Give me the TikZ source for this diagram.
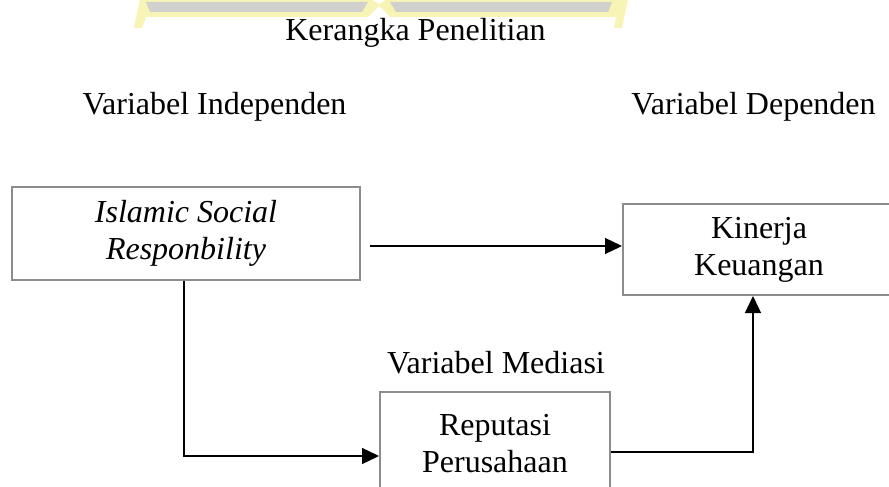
\documentclass[tikz,border=0pt]{standalone}
\usepackage{fontspec}
\setmainfont{Liberation Serif}
\usetikzlibrary{arrows.meta}
\definecolor{wmyellow}{RGB}{248,244,182}
\definecolor{wmgrey}{RGB}{208,208,204}
\definecolor{boxgrey}{RGB}{140,140,140}
\tikzset{
  txt/.style={font=\fontsize{32}{37}\selectfont, inner sep=0pt},
  vbox/.style={draw=boxgrey, line width=2pt, fill=white, align=center,
    font=\fontsize{32}{37}\selectfont, inner sep=0pt},
  arr/.style={draw=black, line width=1.3pt,
    -{Triangle[length=17pt,width=16pt]}},
}
\begin{document}
\begin{tikzpicture}[x=1pt,y=-1pt]
\useasboundingbox (0,0) rectangle (889,487);
\clip (0,0) rectangle (889,487);
% watermark remnant at the top
\fill[wmyellow] (134,28) -- (140,0) -- (372,0) -- (379,4) -- (386,0) -- (628,0)
  -- (622,28) -- (614,28) -- (616,17) -- (390,17) -- (379,6) -- (368,17)
  -- (146,17) -- (142,28) -- cycle;
\fill[wmgrey] (146,2) -- (368,2) -- (362,12) -- (150,12) -- cycle;
\fill[wmgrey] (390,2) -- (612,2) -- (608,12) -- (396,12) -- cycle;
% titles
\node[txt, anchor=base] (title) at (415.5,41) {Kerangka Penelitian};
\node[txt, anchor=base] (indep) at (214.5,114) {Variabel Independen};
\node[txt, anchor=base] (dep) at (753.5,114) {Variabel Dependen};
\node[txt, anchor=base] (med) at (496,373) {Variabel Mediasi};
% boxes
\node[vbox, minimum width=348pt, minimum height=93pt] (isr) at (186,233.5)
  {\itshape Islamic Social\\\itshape Responbility};
\node[vbox, minimum width=272pt, minimum height=91pt] (kin) at (759,249.5)
  {Kinerja\\Keuangan};
\node[vbox, minimum width=230pt, minimum height=104pt] (rep) at (495,444)
  {Reputasi\\Perusahaan};
% connectors
\coordinate (s1) at (370,246);
\draw[arr] (s1) -- (s1 -| kin.west);
\draw[arr] ([xshift=-2pt]isr.south) |- ([yshift=-12pt]rep.west);
\draw[arr] ([yshift=-8pt]rep.east) -| ([xshift=-6pt]kin.south);
\end{tikzpicture}
\end{document}
